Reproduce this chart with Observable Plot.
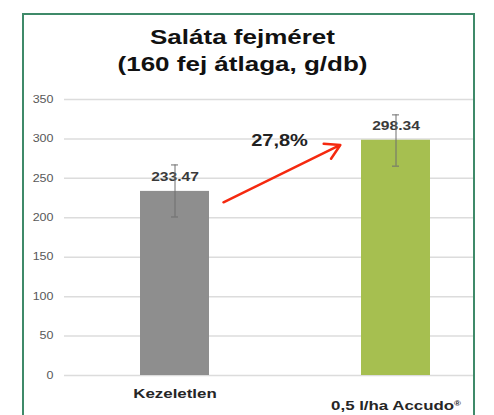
<!DOCTYPE html>
<html>
<head>
<meta charset="utf-8">
<script src="https://cdn.jsdelivr.net/npm/d3@7"></script>
<script src="https://cdn.jsdelivr.net/npm/@observablehq/plot@0.6"></script>
<style>
  html, body { margin: 0; padding: 0; background: #fff; width: 494px; height: 415px; overflow: hidden; }
  #frame { position: absolute; left: 22px; top: 13px; width: 453px; height: 440px; border: 2px solid #3f8a69; box-sizing: border-box; }
  #title { position: absolute; left: 0; top: 24px; width: 485px; text-align: center; font-family: "Liberation Sans", Arial, sans-serif; font-weight: bold; font-size: 20px; line-height: 27px; color: #111; transform: scaleX(1.3); transform-origin: 242.5px 0; }
  #chart { position: absolute; left: 0; top: 0; }
</style>
</head>
<body>
<div id="frame"></div>
<div id="title">Saláta fejméret<br>(160 fej átlaga, g/db)</div>
<div id="chart"></div>
<script>
// ---- data ----
const categories = ["Kezeletlen", "0,5 l/ha Accudo®"];
const means = [233.47, 298.34];
const valueLabels = ["233.47", "298.34"];
const errLow = [201, 265.5];
const errHigh = [267, 330.5];
const barColors = ["#8e8e8e", "#a6bf50"];
const yTicks = [0, 50, 100, 150, 200, 250, 300, 350];
const increaseLabel = ["27,8%"];
const increaseY = [298];
const arrowY = [189.5, 327];

const rows = categories.map((c, i) => ({cat: c, value: means[i], label: valueLabels[i], lo: errLow[i], hi: errHigh[i], color: barColors[i]}));
const arrowRow = [{c1: categories[0], c2: categories[1], y1: arrowY[0], y2: arrowY[1]}];
const incRow = [{cat: categories[0], y: increaseY[0], text: increaseLabel[0]}];

const chart = Plot.plot({
  width: 494,
  height: 415,
  marginTop: 99,
  marginBottom: 40,
  marginLeft: 64,
  marginRight: 21,
  style: {background: "transparent", fontFamily: "'Liberation Sans', Arial, sans-serif", overflow: "visible"},
  x: {type: "band", domain: categories, range: [140, 430], paddingInner: 0.688, paddingOuter: 0},
  y: {domain: [0, 350]},
  color: {type: "identity"},
  marks: [
    Plot.ruleY(yTicks, {stroke: "#dcdcdc", strokeWidth: 1.5}),
    Plot.axisY(yTicks, {tickSize: 0, tickPadding: 11, fontSize: 10, fill: "#595959", label: null}),
    Plot.axisX([categories[0]], {tickSize: 0, tickPadding: 13, fontSize: 13.5, fontWeight: "bold", fill: "#262626", label: null}),
    Plot.axisX([categories[1]], {tickSize: 0, tickPadding: 25, fontSize: 13.5, fontWeight: "bold", fill: "#262626", label: null}),
    Plot.barY(rows, {x: "cat", y: "value", fill: "color"}),
    Plot.text(rows, {x: "cat", y: "value", text: "label", dy: -14, fontSize: 12.5, fontWeight: "bold", fill: "#3a3a3a"}),
    Plot.ruleX(rows, {x: "cat", y1: "lo", y2: "hi", stroke: "#6e6e6e", strokeWidth: 1}),
    Plot.tickY(rows, {x: "cat", y: "lo", insetLeft: 31, insetRight: 31, stroke: "#6e6e6e"}),
    Plot.tickY(rows, {x: "cat", y: "hi", insetLeft: 31, insetRight: 31, stroke: "#6e6e6e"}),
    Plot.arrow(arrowRow, {x1: "c1", y1: "y1", x2: "c2", y2: "y2", insetStart: 54, insetEnd: 62, stroke: "#f5290f", strokeWidth: 2.5, headLength: 10}),
    Plot.text(incRow, {x: "cat", y: "y", text: "text", dx: 104.5, fontSize: 16, fontWeight: "bold", fill: "#222"})
  ]
});

// horizontally stretched lettering, as in the reference
d3.select(chart).selectAll("text").each(function () {
  const t = this.getAttribute("transform");
  if (t) this.setAttribute("transform", t + " scale(1.25,1)");
  // small superscript registered mark
  const s = this.textContent;
  if (s.endsWith("®") && this.children.length === 0) {
    const sel = d3.select(this);
    sel.text(s.slice(0, -1));
    sel.append("tspan").attr("font-size", "0.55em").attr("dy", "-0.6em").text("®");
  }
});

document.getElementById("chart").appendChild(chart);
</script>
</body>
</html>
